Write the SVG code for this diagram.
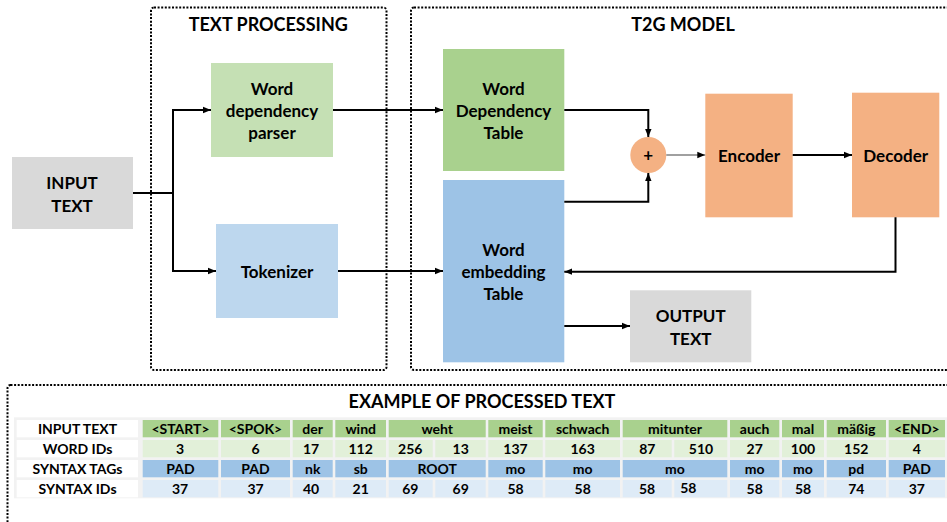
<svg xmlns="http://www.w3.org/2000/svg" width="947" height="522" viewBox="0 0 947 522">
<defs>
<marker id="ah" viewBox="0 0 10 10" refX="10" refY="5" markerWidth="8" markerHeight="8" orient="auto" markerUnits="userSpaceOnUse"><path d="M0,1 L10,5 L0,9 Z" fill="#000"/></marker>
</defs>
<style>
text{font-family:Lato,"Liberation Sans",sans-serif;font-weight:bold;fill:#000;text-anchor:middle}
.frame{fill:none;stroke:#000;stroke-width:2;stroke-dasharray:2 1.6}
.n{font-size:17px}
.h{font-size:18px}
.t{font-size:14px}
.conn path{stroke:#000;stroke-width:2;fill:none;marker-end:url(#ah)}
.conn path.g{stroke:#808080;stroke-width:1.5}
.gray{fill:#d9d9d9}
.lg{fill:#c5e0b4}
.lb{fill:#bdd7ee}
.g2{fill:#a9d18e}
.b2{fill:#9dc3e6}
.or{fill:#f4b183}
.r1{fill:#a9d18e}
.r2{fill:#e2f0d9}
.r3{fill:#9dc3e6}
.r4{fill:#deebf7}
.lab{fill:#ffffff}
</style>

<!-- frames -->
<g id="text-processing-frame">
<rect class="frame" x="151" y="7.5" width="235.5" height="362.5" rx="3"/>
<text class="h" x="268.3" y="31">TEXT PROCESSING</text>
</g>
<g id="t2g-model-frame">
<rect class="frame" x="411" y="7.5" width="545" height="362.5" rx="3"/>
<text class="h" x="683" y="31">T2G MODEL</text>
</g>

<!-- nodes -->
<g id="input-text">
<rect class="gray" x="12" y="157" width="121" height="72"/>
<text class="n" x="72" y="189.3">INPUT</text>
<text class="n" x="72" y="211.7">TEXT</text>
</g>
<g id="word-dependency-parser">
<rect class="lg" x="211" y="63" width="122" height="94"/>
<text class="n" x="272" y="95">Word</text>
<text class="n" x="272" y="117.3">dependency</text>
<text class="n" x="272" y="139.3">parser</text>
</g>
<g id="tokenizer">
<rect class="lb" x="216" y="224" width="122" height="94"/>
<text class="n" x="277" y="278.3">Tokenizer</text>
</g>
<g id="word-dependency-table">
<rect class="g2" x="443" y="49" width="121.3" height="122"/>
<text class="n" x="503.5" y="95">Word</text>
<text class="n" x="503.5" y="117.3">Dependency</text>
<text class="n" x="503.5" y="139.3">Table</text>
</g>
<g id="word-embedding-table">
<rect class="b2" x="443" y="180" width="121.3" height="182.3"/>
<text class="n" x="503.5" y="255.7">Word</text>
<text class="n" x="503.5" y="278">embedding</text>
<text class="n" x="503.5" y="300">Table</text>
</g>
<g id="sum">
<circle class="or" cx="648.3" cy="155" r="18"/>
<text class="n" x="648.3" y="161">+</text>
</g>
<g id="encoder">
<rect class="or" x="705.3" y="93.7" width="87.4" height="123.6"/>
<text class="n" x="749" y="162.3">Encoder</text>
</g>
<g id="decoder">
<rect class="or" x="852" y="92.7" width="87.3" height="124.6"/>
<text class="n" x="895.7" y="162.3">Decoder</text>
</g>
<g id="output-text">
<rect class="gray" x="630" y="290.3" width="121.3" height="72"/>
<text class="n" x="690.7" y="322.3">OUTPUT</text>
<text class="n" x="690.7" y="344.7">TEXT</text>
</g>

<!-- connectors -->
<g id="connectors" class="conn">
<path d="M133,193 H173 V110 H211"/>
<path d="M173,193 V271 H216"/>
<path d="M333,110 H443"/>
<path d="M338,271 H443"/>
<path d="M564.3,110 H648.3 V137"/>
<path d="M564.3,201.7 H648.3 V173"/>
<path class="g" d="M666.3,155 H705.3"/>
<path d="M792.7,155 H852"/>
<path d="M895.5,217.3 V271.7 H564.3"/>
<path d="M564.3,326 H630"/>
</g>

<!-- example table -->
<g id="example-frame">
<rect class="frame" x="7.5" y="385" width="950" height="150" rx="3"/>
<text class="h" x="482" y="408.3">EXAMPLE OF PROCESSED TEXT</text>
</g>
<g id="example-table">
<rect x="14" y="417.3" width="940" height="81" fill="#f2f2f2"/>
<!-- label column -->
<rect class="lab" x="16.7" y="420" width="121.3" height="17.3"/>
<rect class="lab" x="16.7" y="440" width="121.3" height="17.3"/>
<rect class="lab" x="16.7" y="460" width="121.3" height="17.3"/>
<rect class="lab" x="16.7" y="480" width="121.3" height="17.3"/>
<text class="t" x="77.5" y="434">INPUT TEXT</text>
<text class="t" x="77.5" y="454">WORD IDs</text>
<text class="t" x="77.5" y="474">SYNTAX TAGs</text>
<text class="t" x="77.5" y="494">SYNTAX IDs</text>
<!-- row 1 -->
<g class="row1">
<rect class="r1" x="142.7" y="420" width="75.6" height="17.3"/>
<rect class="r1" x="221" y="420" width="69" height="17.3"/>
<rect class="r1" x="292.7" y="420" width="40" height="17.3"/>
<rect class="r1" x="335.3" y="420" width="50.7" height="17.3"/>
<rect class="r1" x="388.7" y="420" width="97" height="17.3"/>
<rect class="r1" x="488.3" y="420" width="54.4" height="17.3"/>
<rect class="r1" x="545.3" y="420" width="74.7" height="17.3"/>
<rect class="r1" x="622.7" y="420" width="104.6" height="17.3"/>
<rect class="r1" x="730" y="420" width="49.3" height="17.3"/>
<rect class="r1" x="782" y="420" width="42" height="17.3"/>
<rect class="r1" x="826.7" y="420" width="59.3" height="17.3"/>
<rect class="r1" x="888.7" y="420" width="56.3" height="17.3"/>
<text class="t" x="180.5" y="434">&lt;START&gt;</text>
<text class="t" x="255.5" y="434">&lt;SPOK&gt;</text>
<text class="t" x="312.7" y="434">der</text>
<text class="t" x="360.7" y="434">wind</text>
<text class="t" x="437.2" y="434">weht</text>
<text class="t" x="515.5" y="434">meist</text>
<text class="t" x="582.7" y="434">schwach</text>
<text class="t" x="675" y="434">mitunter</text>
<text class="t" x="754.7" y="434">auch</text>
<text class="t" x="803" y="434">mal</text>
<text class="t" x="856.3" y="434">mäßig</text>
<text class="t" x="916.8" y="434">&lt;END&gt;</text>
</g>
<!-- row 2 -->
<g class="row2">
<rect class="r2" x="142.7" y="440" width="75.6" height="17.3"/>
<rect class="r2" x="221" y="440" width="69" height="17.3"/>
<rect class="r2" x="292.7" y="440" width="40" height="17.3"/>
<rect class="r2" x="335.3" y="440" width="50.7" height="17.3"/>
<rect class="r2" x="388.7" y="440" width="44" height="17.3"/>
<rect class="r2" x="435.3" y="440" width="50.4" height="17.3"/>
<rect class="r2" x="488.3" y="440" width="54.4" height="17.3"/>
<rect class="r2" x="545.3" y="440" width="74.7" height="17.3"/>
<rect class="r2" x="622.7" y="440" width="49" height="17.3"/>
<rect class="r2" x="674.3" y="440" width="53" height="17.3"/>
<rect class="r2" x="730" y="440" width="49.3" height="17.3"/>
<rect class="r2" x="782" y="440" width="42" height="17.3"/>
<rect class="r2" x="826.7" y="440" width="59.3" height="17.3"/>
<rect class="r2" x="888.7" y="440" width="56.3" height="17.3"/>
<text class="t" x="180" y="454">3</text>
<text class="t" x="255.5" y="454">6</text>
<text class="t" x="311" y="454">17</text>
<text class="t" x="360.7" y="454">112</text>
<text class="t" x="410.3" y="454">256</text>
<text class="t" x="460.7" y="454">13</text>
<text class="t" x="515.5" y="454">137</text>
<text class="t" x="582.7" y="454">163</text>
<text class="t" x="647.3" y="454">87</text>
<text class="t" x="701" y="454">510</text>
<text class="t" x="754.7" y="454">27</text>
<text class="t" x="803" y="454">100</text>
<text class="t" x="856.3" y="454">152</text>
<text class="t" x="916.8" y="454">4</text>
</g>
<!-- row 3 -->
<g class="row3">
<rect class="r3" x="142.7" y="460" width="75.6" height="17.3"/>
<rect class="r3" x="221" y="460" width="69" height="17.3"/>
<rect class="r3" x="292.7" y="460" width="40" height="17.3"/>
<rect class="r3" x="335.3" y="460" width="50.7" height="17.3"/>
<rect class="r3" x="388.7" y="460" width="97" height="17.3"/>
<rect class="r3" x="488.3" y="460" width="54.4" height="17.3"/>
<rect class="r3" x="545.3" y="460" width="74.7" height="17.3"/>
<rect class="r3" x="622.7" y="460" width="104.6" height="17.3"/>
<rect class="r3" x="730" y="460" width="49.3" height="17.3"/>
<rect class="r3" x="782" y="460" width="42" height="17.3"/>
<rect class="r3" x="826.7" y="460" width="59.3" height="17.3"/>
<rect class="r3" x="888.7" y="460" width="56.3" height="17.3"/>
<text class="t" x="180.5" y="474">PAD</text>
<text class="t" x="255.5" y="474">PAD</text>
<text class="t" x="312.7" y="474">nk</text>
<text class="t" x="360.7" y="474">sb</text>
<text class="t" x="437.2" y="474">ROOT</text>
<text class="t" x="515.5" y="474">mo</text>
<text class="t" x="582.7" y="474">mo</text>
<text class="t" x="675" y="474">mo</text>
<text class="t" x="754.7" y="474">mo</text>
<text class="t" x="803" y="474">mo</text>
<text class="t" x="856.3" y="474">pd</text>
<text class="t" x="916.8" y="474">PAD</text>
</g>
<!-- row 4 -->
<g class="row4">
<rect class="r4" x="142.7" y="480" width="75.6" height="17.3"/>
<rect class="r4" x="221" y="480" width="69" height="17.3"/>
<rect class="r4" x="292.7" y="480" width="40" height="17.3"/>
<rect class="r4" x="335.3" y="480" width="50.7" height="17.3"/>
<rect class="r4" x="388.7" y="480" width="44" height="17.3"/>
<rect class="r4" x="435.3" y="480" width="50.4" height="17.3"/>
<rect class="r4" x="488.3" y="480" width="54.4" height="17.3"/>
<rect class="r4" x="545.3" y="480" width="74.7" height="17.3"/>
<rect class="r4" x="622.7" y="480" width="49" height="17.3"/>
<rect class="r4" x="674.3" y="480" width="53" height="17.3"/>
<rect class="r4" x="730" y="480" width="49.3" height="17.3"/>
<rect class="r4" x="782" y="480" width="42" height="17.3"/>
<rect class="r4" x="826.7" y="480" width="59.3" height="17.3"/>
<rect class="r4" x="888.7" y="480" width="56.3" height="17.3"/>
<text class="t" x="180" y="494">37</text>
<text class="t" x="255.5" y="494">37</text>
<text class="t" x="311" y="494">40</text>
<text class="t" x="360.7" y="494">21</text>
<text class="t" x="410.3" y="494">69</text>
<text class="t" x="460.7" y="494">69</text>
<text class="t" x="515.5" y="494">58</text>
<text class="t" x="582.7" y="494">58</text>
<text class="t" x="647" y="494">58</text>
<text class="t" x="688.3" y="492.7">58</text>
<text class="t" x="754.7" y="494">58</text>
<text class="t" x="803" y="494">58</text>
<text class="t" x="856.3" y="494">74</text>
<text class="t" x="916.8" y="494">37</text>
</g>
</g>
</svg>
